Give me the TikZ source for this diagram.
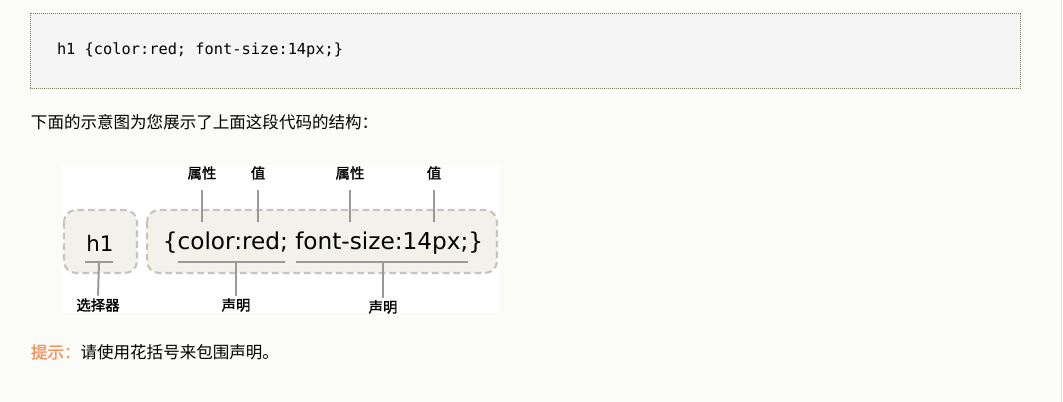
\documentclass[tikz,border=0pt]{standalone}
\usepackage{fontspec}
\setmainfont{DejaVu Sans}
\newfontfamily\cjk{Noto Sans CJK SC}
\newfontfamily\cjkb{Noto Sans CJK SC}[FakeBold=1.5]
\newfontfamily\codefont{DejaVu Sans Mono}
\newfontfamily\diafont{DejaVu Sans}
\definecolor{pagebg}{HTML}{FBFCF7}
\definecolor{codebg}{HTML}{F5F5F5}
\definecolor{codeborder}{HTML}{7A8060}
\definecolor{boxfill}{HTML}{F3F2EA}
\definecolor{boxborder}{HTML}{C4C4C4}
\definecolor{linegray}{HTML}{9A9A9A}
\definecolor{tipcolor}{HTML}{F7935C}
\begin{document}
\begin{tikzpicture}[x=0.75pt,y=-0.75pt,
  inner sep=0pt, outer sep=0pt,
  rbox/.style={draw=boxborder, fill=boxfill, line width=1.6pt, dash pattern=on 5pt off 3pt, rounded corners=9pt},
  tick/.style={draw=linegray, line width=1.5pt},
  lbl/.style={font=\cjkb\fontsize{10.8pt}{12pt}\selectfont, text=black},
  bodytext/.style={font=\cjk\fontsize{12.4pt}{14pt}\selectfont, anchor=west, text=black}]
\useasboundingbox (0,0) rectangle (1063,402);
\fill[pagebg] (0,0) rectangle (1063,402);
\draw[gray!25, line width=0.75pt] (1061.5,0) -- (1061.5,402);
% code box
\draw[codeborder, fill=codebg, line width=0.75pt, dash pattern=on 0.75pt off 0.75pt] (30.5,13.5) rectangle (1020.5,88.5);
\node[anchor=west, font=\codefont\fontsize{11.5pt}{13pt}\selectfont] (code) at (57,50) {h1 \{color:red; font-size:14px;\}};
% intro text
\node[bodytext] (intro) at (31,122) {下面的示意图为您展示了上面这段代码的结构：};
% diagram image
\fill[white] (62,165) rectangle (499,313);
\draw[rbox] (64,210) rectangle (137,273);
\draw[rbox] (147,210) rectangle (497,273);
\node[font=\diafont\fontsize{16pt}{18pt}\selectfont] (h1) at (100,243) {h1};
\node[font=\diafont\fontsize{17.4pt}{20pt}\selectfont] (decl) at (323,243) {\{color:red; font-size:14px;\}};
% bottom brackets
\coordinate (s1) at (85,262); \coordinate (s2) at (113,262);
\coordinate (d1a) at (178,262); \coordinate (d1b) at (285,262);
\coordinate (d2a) at (296,262); \coordinate (d2b) at (468,262);
\draw[tick] (s1) -- (s2);
\draw[tick] (d1a) -- (d1b);
\draw[tick] (d2a) -- (d2b);
\node[lbl] (selL) at (98,305) {选择器};
\node[lbl] (decL1) at (236,305) {声明};
\node[lbl] (decL2) at (383,307) {声明};
\draw[tick] (99,262) -- ([yshift=2pt]selL.north);
\draw[tick] (236,262) -- ([yshift=2pt]decL1.north);
\draw[tick] (383,262) -- ([yshift=2pt]decL2.north);
% top labels
\node[lbl] (p1) at (202,173) {属性};
\node[lbl] (v1) at (258,173) {值};
\node[lbl] (p2) at (350,173) {属性};
\node[lbl] (v2) at (434,173) {值};
\coordinate (p1e) at (202,222); \coordinate (v1e) at (258,222);
\coordinate (p2e) at (350,222); \coordinate (v2e) at (434,222);
\draw[tick] (202,190) -- (p1e);
\draw[tick] (258,190) -- (v1e);
\draw[tick] (350,190) -- (p2e);
\draw[tick] (434,190) -- (v2e);
% tip
\node[anchor=west, font=\cjkb\fontsize{12.4pt}{14pt}\selectfont, text=tipcolor] (tip) at (31,352) {提示：};
\node[bodytext] (tiptext) at (tip.east) {请使用花括号来包围声明。};
\end{tikzpicture}
\end{document}
